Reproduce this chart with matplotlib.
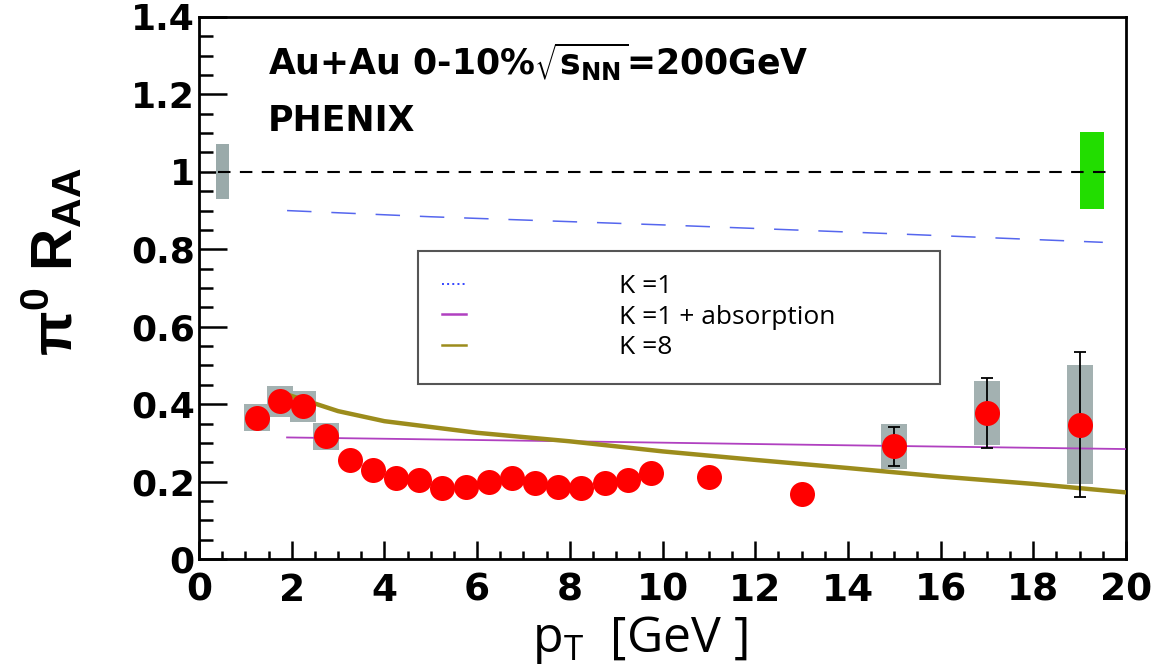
import matplotlib
matplotlib.use("Agg")
import matplotlib.pyplot as plt
from matplotlib.lines import Line2D
from matplotlib.ticker import MultipleLocator, FuncFormatter

# ---- data ----
pt = [1.25, 1.75, 2.25, 2.75, 3.25, 3.75, 4.25, 4.75, 5.25, 5.75, 6.25, 6.75,
      7.25, 7.75, 8.25, 8.75, 9.25, 9.75, 11, 13, 15, 17, 19]
raa = [0.365, 0.407, 0.395, 0.317, 0.256, 0.230, 0.210, 0.205, 0.184, 0.187,
       0.200, 0.210, 0.197, 0.187, 0.184, 0.197, 0.203, 0.222, 0.212, 0.168,
       0.291, 0.377, 0.347]
sys_err = [0.035, 0.040, 0.040, 0.035, 0.0, 0.0, 0.0, 0.0, 0.0, 0.0,
           0.0, 0.0, 0.0, 0.0, 0.0, 0.0, 0.0, 0.0, 0.0, 0.0,
           0.058, 0.082, 0.154]
stat_pt = [15, 17, 19]
stat_raa = [0.291, 0.377, 0.347]
stat_err = [0.051, 0.090, 0.188]

k1_x = [1.9, 5, 10, 15, 19.5]
k1_y = [0.900, 0.884, 0.863, 0.840, 0.818]
k1abs_x = [1.9, 5, 8, 12, 15, 20]
k1abs_y = [0.314, 0.309, 0.304, 0.297, 0.292, 0.284]
k8_x = [1.9, 3, 4, 6, 8, 10, 12, 14, 16, 18, 20]
k8_y = [0.425, 0.382, 0.356, 0.326, 0.304, 0.278, 0.256, 0.235, 0.213, 0.194, 0.172]

norm_x = [0.5]
norm_lo = [0.930]
norm_hi = [1.071]
green_x = [19.27]
green_lo = [0.904]
green_hi = [1.104]
unity_x = [0.4, 19.75]
unity_y = [1.0, 1.0]

xticks = [0, 2, 4, 6, 8, 10, 12, 14, 16, 18, 20]
yticks = [0, 0.2, 0.4, 0.6, 0.8, 1.0, 1.2, 1.4]
legend_labels = ["K =1", "K =1 + absorption", "K =8"]

# ---- figure ----
fig = plt.figure(figsize=(11.66, 6.70), dpi=100)
ax = fig.add_axes([199/1166, 1-559/670, 927/1166, 542/670])
ax.set_xlim(0, 20)
ax.set_ylim(0, 1.4)

gray = "#a3b1b1"
# normalization boxes
ax.bar(norm_x, [h - l for h, l in zip(norm_hi, norm_lo)], bottom=norm_lo,
       width=0.28, color="#9aaaaa", zorder=2)
ax.bar(green_x, [h - l for h, l in zip(green_hi, green_lo)], bottom=green_lo,
       width=0.52, color="#22dd00", zorder=2)

ax.plot(unity_x, unity_y, color="black", lw=1.5, linestyle=(0, (6, 4.5)), zorder=3)

# theory curves
ax.plot(k1_x, k1_y, color="#5566ee", lw=1.1, linestyle=(0, (16, 13)), zorder=3)
ax.plot(k1abs_x, k1abs_y, color="#b040c0", lw=1.3, zorder=4)
ax.plot(k8_x, k8_y, color="#9c8c1c", lw=3.2, zorder=4)

# systematic boxes
ax.bar(pt, [2*s for s in sys_err], bottom=[r - s for r, s in zip(raa, sys_err)],
       width=0.56, color=gray, linewidth=0, zorder=2)
# stat errors
ax.errorbar(stat_pt, stat_raa, yerr=stat_err, fmt="none", ecolor="black",
            elinewidth=1.3, capsize=4, capthick=1.3, zorder=5)
ax.plot(pt, raa, "o", color="#ff0000", markersize=18, markeredgewidth=0, zorder=6)

# axes styling
for side in ["left", "bottom", "right", "top"]:
    ax.spines[side].set_linewidth(2.0)
ax.xaxis.set_minor_locator(MultipleLocator(0.5))
ax.yaxis.set_minor_locator(MultipleLocator(0.05))
ax.set_xticks(xticks)
ax.set_yticks(yticks)
ax.xaxis.set_major_formatter(FuncFormatter(lambda v, p: f"{v:g}"))
ax.yaxis.set_major_formatter(FuncFormatter(lambda v, p: f"{v:g}"))
ax.tick_params(axis="x", which="major", direction="in", length=13, width=1.8,
               top=False, pad=10)
ax.tick_params(axis="x", which="minor", direction="in", length=6, width=1.8, top=False)
ax.tick_params(axis="y", which="major", direction="in", length=20, width=1.8,
               right=False, pad=3)
ax.tick_params(axis="y", which="minor", direction="in", length=10, width=1.8, right=False)
for lab in ax.get_xticklabels():
    lab.set_fontfamily("DejaVu Sans")
    lab.set_fontweight("bold")
    lab.set_fontsize(27)
for lab in ax.get_yticklabels():
    lab.set_fontfamily("DejaVu Sans")
    lab.set_fontweight("bold")
    lab.set_fontsize(26)

# annotations
ax.text(0.074, 0.917, "Au+Au 0-10%$\\sqrt{\\mathregular{s_{NN}}}$=200GeV",
        transform=ax.transAxes, fontsize=25, fontweight="bold",
        family="DejaVu Sans", va="center", ha="left")
ax.text(0.074, 0.808, "PHENIX", transform=ax.transAxes, fontsize=25,
        fontweight="bold", family="DejaVu Sans", va="center", ha="left")

# axis labels
fig.text(0.045, 1-262/670, "π$^\\mathregular{0}$ R$_\\mathregular{AA}$", rotation=90,
         fontsize=42, fontweight="bold", family="Liberation Sans",
         ha="center", va="center")
fig.text(640/1166, 1-640/670, "p$_\\mathregular{T}$  [GeV ]", fontsize=36,
         family="Open Sans", ha="center", va="center")

# legend
handles = [Line2D([], [], color="#3344ff", lw=1.4, linestyle=":"),
           Line2D([], [], color="#b040c0", lw=1.8),
           Line2D([], [], color="#9c8c1c", lw=1.8)]
leg = ax.legend(handles, legend_labels, loc="upper left",
                bbox_to_anchor=((418-199)/927, (559-256)/542, (940-418)/927, 0.01),
                mode="expand", prop={"family": "Open Sans", "size": 19},
                handlelength=0.9, handletextpad=5.8, borderpad=0.9,
                labelspacing=0.2, fancybox=False, framealpha=1,
                borderaxespad=0)
leg.get_frame().set_edgecolor("#555555")
leg.get_frame().set_linewidth(1.5)

fig.savefig("out.png", dpi=100)
